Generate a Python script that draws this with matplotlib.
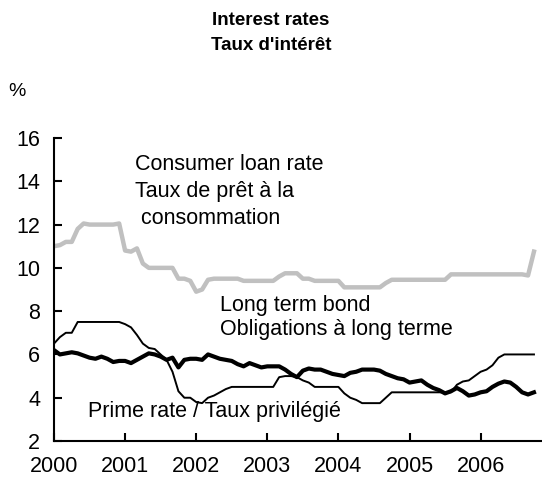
import numpy as np
import matplotlib
matplotlib.use("Agg")
import matplotlib.pyplot as plt

plt.rcParams['font.family'] = ['Liberation Sans', 'DejaVu Sans']

# monthly values, Jan 2000 .. Oct 2006
start_year = 2000
consumer_loan = [11.0, 11.05, 11.2, 11.2, 11.8, 12.05, 12.0, 12.0, 12.0, 12.0, 12.0, 12.05,
                 10.8, 10.75, 10.9, 10.2, 10.0, 10.0, 10.0, 10.0, 10.0, 9.5, 9.5, 9.4,
                 8.9, 9.0, 9.45, 9.5, 9.5, 9.5, 9.5, 9.5, 9.4, 9.4, 9.4, 9.4,
                 9.4, 9.4, 9.6, 9.75, 9.75, 9.75, 9.5, 9.5, 9.4, 9.4, 9.4, 9.4,
                 9.4, 9.1, 9.1, 9.1, 9.1, 9.1, 9.1, 9.1, 9.3, 9.45, 9.45, 9.45,
                 9.45, 9.45, 9.45, 9.45, 9.45, 9.45, 9.45, 9.7, 9.7, 9.7, 9.7, 9.7,
                 9.7, 9.7, 9.7, 9.7, 9.7, 9.7, 9.7, 9.7, 9.65, 10.75]

prime_rate = [6.5, 6.8, 7.0, 7.0, 7.5, 7.5, 7.5, 7.5, 7.5, 7.5, 7.5, 7.5,
              7.4, 7.25, 6.9, 6.5, 6.3, 6.25, 6.0, 5.75, 5.2, 4.3, 4.0, 4.0,
              3.8, 3.75, 4.0, 4.1, 4.25, 4.4, 4.5, 4.5, 4.5, 4.5, 4.5, 4.5,
              4.5, 4.5, 4.95, 5.0, 5.0, 4.95, 4.8, 4.7, 4.5, 4.5, 4.5, 4.5,
              4.5, 4.2, 4.0, 3.9, 3.75, 3.75, 3.75, 3.75, 4.0, 4.25, 4.25, 4.25,
              4.25, 4.25, 4.25, 4.25, 4.25, 4.25, 4.25, 4.25, 4.6, 4.75, 4.8, 5.0,
              5.2, 5.3, 5.5, 5.85, 6.0, 6.0, 6.0, 6.0, 6.0, 6.0]

long_bond = [6.2, 6.0, 6.05, 6.1, 6.05, 5.95, 5.85, 5.8, 5.9, 5.8, 5.65, 5.7,
             5.7, 5.6, 5.75, 5.9, 6.05, 6.0, 5.9, 5.75, 5.85, 5.4, 5.75, 5.8,
             5.8, 5.75, 6.0, 5.9, 5.8, 5.75, 5.7, 5.55, 5.45, 5.6, 5.5, 5.4,
             5.45, 5.45, 5.45, 5.3, 5.1, 4.95, 5.25, 5.35, 5.3, 5.3, 5.2, 5.1,
             5.05, 5.0, 5.15, 5.2, 5.3, 5.3, 5.3, 5.25, 5.1, 5.0, 4.9, 4.85,
             4.7, 4.75, 4.8, 4.6, 4.45, 4.35, 4.2, 4.3, 4.45, 4.3, 4.1, 4.15,
             4.25, 4.3, 4.5, 4.65, 4.75, 4.7, 4.5, 4.25, 4.15, 4.25]

year_ticks = [2000, 2001, 2002, 2003, 2004, 2005, 2006]
y_ticks = [2, 4, 6, 8, 10, 12, 14, 16]

x = start_year + np.arange(len(consumer_loan)) / 12.0

fig = plt.figure(figsize=(5.42, 4.79), dpi=100)
ax = fig.add_axes([0.0996, 0.0793, 0.900, 0.6326])

ax.plot(x, consumer_loan, color='#c0c0c0', lw=3.2, solid_joinstyle='round')
ax.plot(x, prime_rate, color='black', lw=1.4)
ax.plot(x, long_bond, color='black', lw=3.0)

ax.set_xlim(2000, 2006.86)
ax.set_ylim(2, 16)
ax.set_xticks(year_ticks)
ax.set_xticklabels([str(y) for y in year_ticks])
ax.set_yticks(y_ticks)

for s in ['top', 'right']:
    ax.spines[s].set_visible(False)
for s in ['left', 'bottom']:
    ax.spines[s].set_linewidth(1.5)
ax.tick_params(axis='both', direction='in', length=6, width=1.5, labelsize=15.5)
ax.tick_params(axis='x', pad=11)
ax.tick_params(axis='y', pad=10)

fig.text(0.5, 0.958, 'Interest rates', ha='center', va='center', fontsize=13.5, fontweight='bold')
fig.text(0.5, 0.906, "Taux d'intérêt", ha='center', va='center', fontsize=13.5, fontweight='bold')
fig.text(0.015, 0.808, '%', ha='left', va='center', fontsize=14)

fs = 15.5
fig.text(135/542, 1 - 165/479, 'Consumer loan rate', ha='left', va='center', fontsize=fs)
fig.text(135/542, 1 - 192/479, 'Taux de prêt à la', ha='left', va='center', fontsize=fs)
fig.text(135/542, 1 - 218/479, ' consommation', ha='left', va='center', fontsize=fs)
fig.text(220/542, 1 - 306/479, 'Long term bond', ha='left', va='center', fontsize=fs)
fig.text(220/542, 1 - 330/479, 'Obligations à long terme', ha='left', va='center', fontsize=fs)
fig.text(88/542, 1 - 412/479, 'Prime rate / Taux privilégié', ha='left', va='center', fontsize=fs)

fig.savefig('out.png', dpi=100)
